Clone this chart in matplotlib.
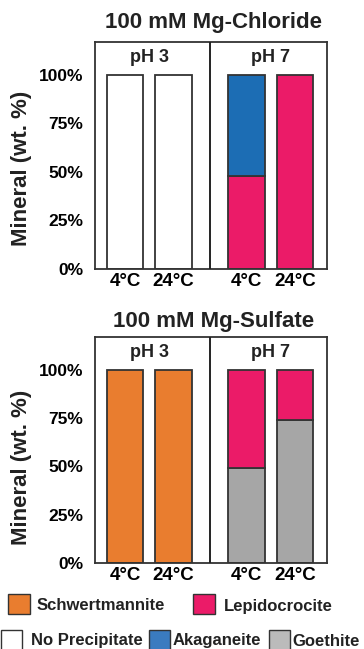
import matplotlib
matplotlib.use("Agg")
import matplotlib.pyplot as plt
from matplotlib.patches import Rectangle
import numpy as np

plt.rcParams['font.family'] = ['Liberation Sans', 'DejaVu Sans']
plt.rcParams['font.weight'] = 'bold'

# ---- data ----
conditions = ['4°C', '24°C', '4°C', '24°C']
ph_groups = ['pH 3', 'pH 7']
yticks = [0, 25, 50, 75, 100]
ytick_labels = ['0%', '25%', '50%', '75%', '100%']

chloride_title = '100 mM Mg-Chloride'
chloride_stack = ['No Precipitate', 'Lepidocrocite', 'Akaganeite']
chloride_no_precip = [100, 100, 0, 0]
chloride_lepido = [0, 0, 48, 100]
chloride_akaga = [0, 0, 52, 0]

sulfate_title = '100 mM Mg-Sulfate'
sulfate_stack = ['Schwertmannite', 'Goethite', 'Lepidocrocite']
sulfate_schwert = [100, 100, 0, 0]
sulfate_goethite = [0, 0, 49, 74]
sulfate_lepido = [0, 0, 51, 26]

legend_row1 = ['Schwertmannite', 'Lepidocrocite']
legend_row2 = ['No Precipitate', 'Akaganeite', 'Goethite']

colors = {
    'No Precipitate': '#FFFFFF',
    'Schwertmannite': '#E97D2F',
    'Akaganeite': '#1C6DB4',
    'Lepidocrocite': '#EB1B68',
    'Goethite': '#A6A6A6',
}
legend_colors = dict(colors, Akaganeite='#3A7BC0', Goethite='#BBBBBB')

edge = '#333333'
positions = np.array([0, 1, 2.5, 3.5])
W, H = 364, 649
fig = plt.figure(figsize=(W / 100, H / 100), dpi=100)


def panel(rect, title, title_y, stack_names, stack_vals, label_y):
    ax = fig.add_axes(rect)
    bottom = np.zeros(len(positions))
    for name, vals in zip(stack_names, stack_vals):
        vals = np.array(vals, dtype=float)
        m = vals > 0
        ax.bar(positions[m], vals[m], bottom=bottom[m], width=0.75,
               color=colors[name], edgecolor=edge, linewidth=1.3, zorder=2)
        bottom += vals
    ax.set_xlim(-0.62, 4.16)
    ax.set_ylim(0, 117)
    ax.axvline(1.75, color='#222222', lw=1.4, zorder=3)
    ax.set_yticks(yticks)
    ax.set_yticklabels(ytick_labels, fontsize=12.5, fontweight='bold')
    ax.set_xticks(positions)
    ax.set_xticklabels(conditions, fontsize=13.5, fontweight='bold')
    ax.tick_params(axis='y', length=0, pad=8.5)
    ax.tick_params(axis='x', length=0, pad=3)
    for s in ax.spines.values():
        s.set_color(edge)
        s.set_linewidth(1.3)
    ax.set_ylabel('Mineral (wt. %)', fontsize=16, fontweight='bold', color='#222222')
    ax.yaxis.set_label_coords(-0.27, label_y)
    for i, g in enumerate(ph_groups):
        cx = positions[2 * i:2 * i + 2].mean()
        ax.text(cx, 109, g, ha='center', va='center', fontsize=13,
                fontweight='bold', color='#222222')
    fig.text(213.5 / W, 1 - title_y / H, title, ha='center', va='baseline',
             fontsize=16, fontweight='bold', color='#222222')
    return ax


panel([95 / W, 1 - 269 / H, 232 / W, 227 / H], chloride_title, 28,
      chloride_stack, [chloride_no_precip, chloride_lepido, chloride_akaga], 0.445)
panel([95 / W, 1 - 563 / H, 232 / W, 226 / H], sulfate_title, 327,
      sulfate_stack, [sulfate_schwert, sulfate_goethite, sulfate_lepido], 0.425)

# ---- legend (manual) ----
def legend_item(name, px, py, pw, ph, tx, ty):
    fig.add_artist(Rectangle((px / W, 1 - (py + ph) / H), pw / W, ph / H,
                             transform=fig.transFigure,
                             facecolor=legend_colors[name], edgecolor=edge, lw=1.0))
    fig.text(tx / W, 1 - ty / H, name, ha='left', va='center',
             fontsize=12, fontweight='bold', color='#222222')

row1_patch_x = [8, 193]
row1_text_x = [37, 224]
for name, px, tx in zip(legend_row1, row1_patch_x, row1_text_x):
    legend_item(name, px, 594, 22, 20, tx, 606)

row2_patch_x = [1, 149, 269]
row2_text_x = [31, 173, 292]
for name, px, tx in zip(legend_row2, row2_patch_x, row2_text_x):
    legend_item(name, px, 630, 21, 22, tx, 641)

fig.savefig('out.png', dpi=100)
